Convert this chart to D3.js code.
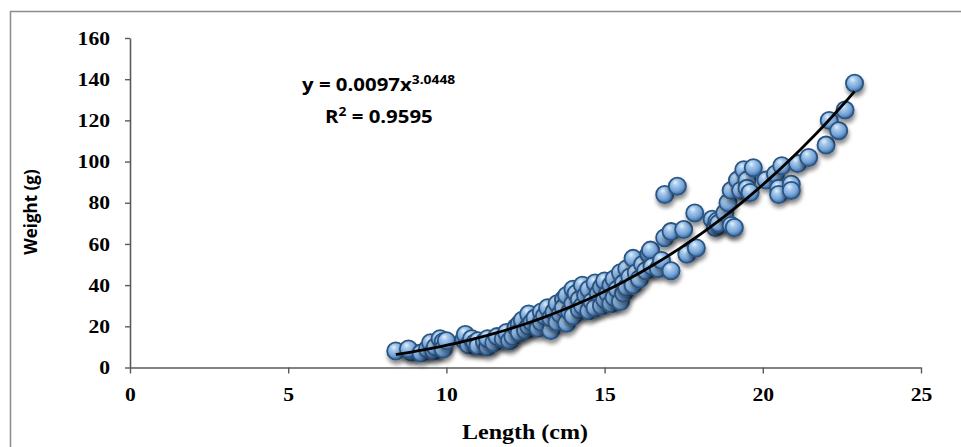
<!DOCTYPE html>
<html>
<head>
<meta charset="utf-8">
<script src="https://cdn.jsdelivr.net/npm/d3@7"></script>
<style>
  body { margin: 0; background: #fff; }
  svg { display: block; }
</style>
</head>
<body>
<div id="container"></div>
<script>
// ************************************************************************************** //
// Data

var lengths = [8.4, 8.9, 8.8, 9.2, 9.4, 9.5, 9.6, 9.65, 9.8, 9.9, 9.9, 10.0,
  10.55, 10.6, 10.7, 10.8, 10.9, 11.0, 11.0, 11.2, 11.3, 11.3, 11.5, 11.6, 11.8, 11.9,
  12.0, 12.1, 12.2, 12.3, 12.3, 12.4, 12.5, 12.6, 12.6, 12.7, 12.8, 12.9,
  13.0, 13.0, 13.1, 13.2, 13.3, 13.3, 13.4, 13.5, 13.5, 13.6, 13.7, 13.7, 13.8, 13.8, 13.9,
  14.0, 14.0, 14.0, 14.1, 14.2, 14.2, 14.3, 14.3, 14.4, 14.5, 14.5, 14.6, 14.7, 14.7, 14.8, 14.9, 14.9,
  15.0, 15.0, 15.1, 15.2, 15.2, 15.3, 15.3, 15.4, 15.5, 15.5, 15.6, 15.6, 15.7, 15.7, 15.8, 15.9, 15.9,
  16.0, 16.1, 16.2, 16.3, 16.4, 16.45, 16.5, 16.7, 16.8, 16.9, 16.9,
  17.1, 17.1, 17.3, 17.5, 17.6, 17.85, 17.9,
  18.4, 18.5, 18.55, 18.6, 18.8, 18.9, 19.0, 19.0, 19.1, 19.2, 19.3, 19.4, 19.5, 19.5, 19.6, 19.7,
  20.1, 20.4, 20.5, 20.5, 20.6, 20.9, 20.9, 21.1, 21.45, 22.0, 22.1, 22.4, 22.6, 22.9];

var weights = [8, 7.5, 9, 7, 9, 12, 8, 10, 14, 12.5, 9, 13,
  13.5, 16, 11, 14, 12, 13, 10.5, 12.5, 10, 14, 12, 15, 14, 17,
  13, 15, 19.5, 21, 17, 23, 18, 20, 26, 22, 24, 19,
  27, 22, 25, 29, 18, 24, 27, 31, 22, 26, 33, 29, 21.5, 35, 27,
  38, 31, 25, 36, 33, 28, 40, 30, 35, 27.5, 38, 32, 41, 29, 36, 30, 39,
  33, 42, 36, 31, 40, 43, 34, 38, 32, 46, 36, 41, 48, 39, 44, 53, 40,
  46, 43, 50, 47, 55, 57, 49, 48, 52, 63, 84,
  66, 47, 88, 67, 55, 75, 58,
  72, 68, 71, 70, 75, 80, 69, 86, 68, 91, 86, 96, 91, 87, 85, 97,
  91, 94, 87, 84, 98, 89, 86, 99, 102, 108, 120, 115, 125, 138];

var xTicks = [0, 5, 10, 15, 20, 25];
var yTicks = [0, 20, 40, 60, 80, 100, 120, 140, 160];

// power trendline as printed on the chart
var trendA = 0.0097, trendB = 3.0448, trendR2 = '0.9595';

var xLabel = 'Length (cm)', yLabel = 'Weight (g)';

// ************************************************************************************** //
// Canvas

var canvas_width = 961, canvas_height = 447;
var stretchX = 1.2; // the reference is a bit wider than tall

var svg = d3.select('#container').append('svg')
  .attr('width', canvas_width).attr('height', canvas_height);

var defs = svg.append('defs');
var grad = defs.append('radialGradient').attr('id', 'ball')
  .attr('cx', '42%').attr('cy', '35%').attr('r', '62%').attr('fx', '38%').attr('fy', '28%');
grad.append('stop').attr('offset', '0%').attr('stop-color', '#e4f0fb');
grad.append('stop').attr('offset', '30%').attr('stop-color', '#a4c8ec');
grad.append('stop').attr('offset', '72%').attr('stop-color', '#75a3d6');
grad.append('stop').attr('offset', '100%').attr('stop-color', '#3f6ea5');

var shadow = defs.append('filter').attr('id', 'shadow')
  .attr('x', '-50%').attr('y', '-50%').attr('width', '200%').attr('height', '220%');
shadow.append('feGaussianBlur').attr('in', 'SourceAlpha').attr('stdDeviation', 2.2);
shadow.append('feOffset').attr('dx', 1).attr('dy', 3.5).attr('result', 'off');
shadow.append('feComponentTransfer').append('feFuncA').attr('type', 'linear').attr('slope', 0.45);
var merge = shadow.append('feMerge');
merge.append('feMergeNode');
merge.append('feMergeNode').attr('in', 'SourceGraphic');

// outer chart border
svg.append('rect')
  .attr('x', 10.5).attr('y', 11.5).attr('width', 1000).attr('height', 600)
  .style('fill', 'none').style('stroke', '#8c8c8c').style('stroke-width', 1.5);

var xScale = d3.scaleLinear().domain([0, 25]).range([130, 921]);
var yScale = d3.scaleLinear().domain([0, 160]).range([367.5, 38]);

// ************************************************************************************** //
// Axes

var xAxis = svg.append('g').attr('transform', 'translate(0,' + yScale(0) + ')')
  .call(d3.axisBottom(xScale).tickValues(xTicks).tickSize(6).tickPadding(15).tickSizeOuter(0));
var yAxis = svg.append('g').attr('transform', 'translate(' + xScale(0) + ',0)')
  .call(d3.axisLeft(yScale).tickValues(yTicks).tickSize(5).tickPadding(15).tickSizeOuter(0));

svg.selectAll('.domain').style('stroke', '#5a5a5a').style('stroke-width', 1.6);
svg.selectAll('.tick line').style('stroke', '#5a5a5a').style('stroke-width', 1.4);
svg.selectAll('.tick text')
  .style('font-family', '"Liberation Serif", "Times New Roman", serif')
  .style('font-weight', 'bold').style('font-size', '18px').style('fill', '#000');
yAxis.selectAll('.tick text').attr('dy', '0.34em');

svg.append('text').attr('class', 'stretch')
  .attr('x', 525).attr('y', 439).attr('text-anchor', 'middle')
  .style('font-family', '"Liberation Serif", "Times New Roman", serif')
  .style('font-weight', 'bold').style('font-size', '20px')
  .text(xLabel);

svg.append('text')
  .attr('transform', 'translate(37,212) rotate(-90)')
  .attr('text-anchor', 'middle')
  .style('font-family', '"Open Sans", "Liberation Sans", sans-serif')
  .style('font-weight', 'bold').style('font-size', '17px')
  .text(yLabel);

// ************************************************************************************** //
// Points + trendline

svg.append('g').selectAll('circle')
  .data(lengths)
  .join('circle')
  .attr('cx', function(d){ return xScale(d); })
  .attr('cy', function(d, i){ return yScale(weights[i]); })
  .attr('r', 8.6)
  .attr('filter', 'url(#shadow)')
  .style('fill', 'url(#ball)')
  .style('stroke', '#2b5583').style('stroke-width', 1.8);

var xMin = d3.min(lengths), xMax = d3.max(lengths);
var trendPts = d3.range(0, 61).map(function(k){
  var x = xMin + (xMax - xMin) * k / 60;
  return [xScale(x), yScale(trendA * Math.pow(x, trendB))];
});
svg.append('path')
  .attr('d', d3.line().curve(d3.curveBasis)(trendPts))
  .style('fill', 'none').style('stroke', '#000').style('stroke-width', 2.8);

// ************************************************************************************** //
// Equation

var eqFont = '"Open Sans", "Liberation Sans", sans-serif';
var eq = svg.append('text').attr('class', 'stretch').attr('x', 302).attr('y', 91)
  .style('font-family', eqFont).style('font-weight', 'bold').style('font-size', '17px');
eq.append('tspan').text('y = ' + trendA + 'x');
eq.append('tspan').attr('dy', -7).style('font-size', '11.5px').text(trendB);

var r2 = svg.append('text').attr('class', 'stretch').attr('x', 325).attr('y', 123)
  .style('font-family', eqFont).style('font-weight', 'bold').style('font-size', '17px');
r2.append('tspan').text('R');
r2.append('tspan').attr('dy', -7).style('font-size', '11.5px').text('2');
r2.append('tspan').attr('dy', 7).text(' = ' + trendR2);

// widen horizontal texts to match the reference
svg.selectAll('.tick text, text.stretch').each(function(){
  var w = this.getComputedTextLength();
  d3.select(this).attr('textLength', w * stretchX).attr('lengthAdjust', 'spacingAndGlyphs');
});
</script>
</body>
</html>
